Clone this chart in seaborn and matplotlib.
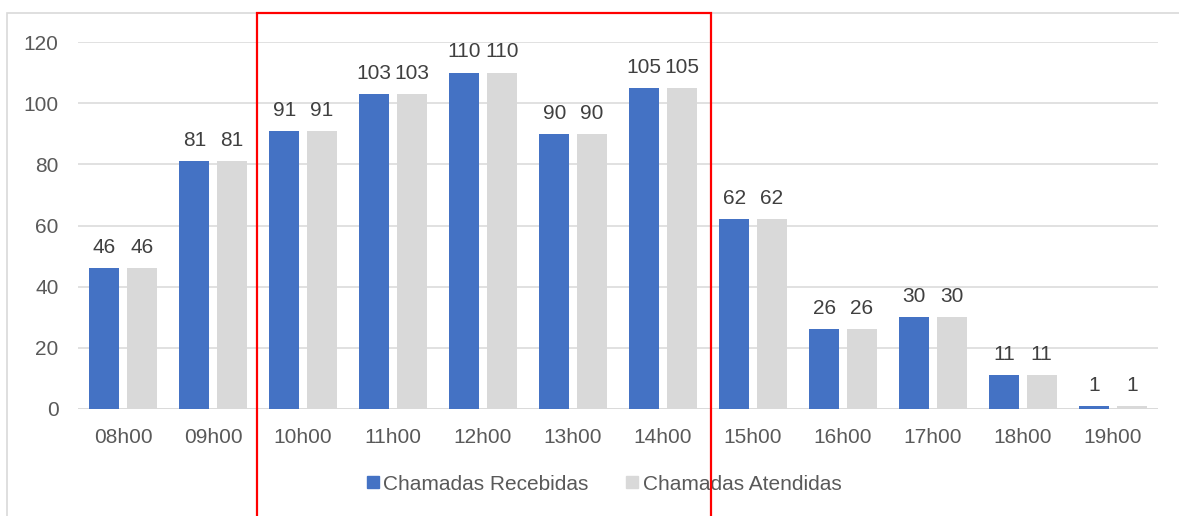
import matplotlib
matplotlib.use("Agg")
import matplotlib.pyplot as plt
import matplotlib.patches as mpatches
from matplotlib.lines import Line2D
import pandas as pd
import seaborn as sns

# Chamadas por hora
horas = ["08h00", "09h00", "10h00", "11h00", "12h00", "13h00",
         "14h00", "15h00", "16h00", "17h00", "18h00", "19h00"]
recebidas = [46, 81, 91, 103, 110, 90, 105, 62, 26, 30, 11, 1]
atendidas = [46, 81, 91, 103, 110, 90, 105, 62, 26, 30, 11, 1]
series = ["Chamadas Recebidas", "Chamadas Atendidas"]
cores = ["#4472C4", "#D9D9D9"]

df = pd.DataFrame({
    "hora": horas * 2,
    "valor": recebidas + atendidas,
    "serie": [series[0]] * len(horas) + [series[1]] * len(horas),
})

sns.set_theme(style="white")
plt.rcParams["font.family"] = ["Liberation Sans", "DejaVu Sans"]
fs = 15

fig = plt.figure(figsize=(11.79, 5.16), dpi=100)
ax = fig.add_axes([78 / 1179, 1 - 409 / 516, 1080 / 1179, 367 / 516])

sns.barplot(data=df, x="hora", y="valor", hue="serie", palette=cores,
            width=0.833, gap=0.2, saturation=1, linewidth=0, ax=ax, legend=False)

for cont in ax.containers:
    ax.bar_label(cont, padding=8, fontsize=fs, color="#404040")

ax.set_ylim(0, 120)
ax.set_xlim(-0.5, len(horas) - 0.5)
ax.set_yticks(range(0, 121, 20))
ax.grid(axis="y", color="#D9D9D9", linewidth=1.1)
ax.set_axisbelow(True)
for s in ["top", "right", "left", "bottom"]:
    ax.spines[s].set_visible(False)
ax.axhline(0, color="#D9D9D9", linewidth=1.1, zorder=0.5)
ax.tick_params(axis="y", length=0, pad=14, labelsize=fs, labelcolor="#595959")
ax.tick_params(axis="x", length=0, pad=14, labelsize=fs, labelcolor="#595959")
ax.set_xlabel("")
ax.set_ylabel("")

# legenda
handles = [Line2D([], [], marker="s", linestyle="none", markersize=8,
                  markerfacecolor=c, markeredgecolor=c) for c in cores]
fig.legend(handles, series, loc="center", bbox_to_anchor=(602 / 1179, 1 - 484 / 516),
           ncol=2, frameon=False, fontsize=fs, labelcolor="#595959",
           handletextpad=0.0, columnspacing=1.6, handlelength=1.0)

# moldura do gráfico
fig.patches.append(mpatches.Rectangle(
    (7 / 1179, -0.1), 1.2, 1 - 12.5 / 516 + 0.1, transform=fig.transFigure,
    fill=False, edgecolor="#D9D9D9", linewidth=1.2))

# destaque em vermelho
fig.patches.append(mpatches.Rectangle(
    (257 / 1179, -0.1), (711 - 257) / 1179, 1 - 12.5 / 516 + 0.1,
    transform=fig.transFigure, fill=False, edgecolor="#FF0000", linewidth=1.6,
    zorder=10))

fig.savefig("out.png", dpi=100)
